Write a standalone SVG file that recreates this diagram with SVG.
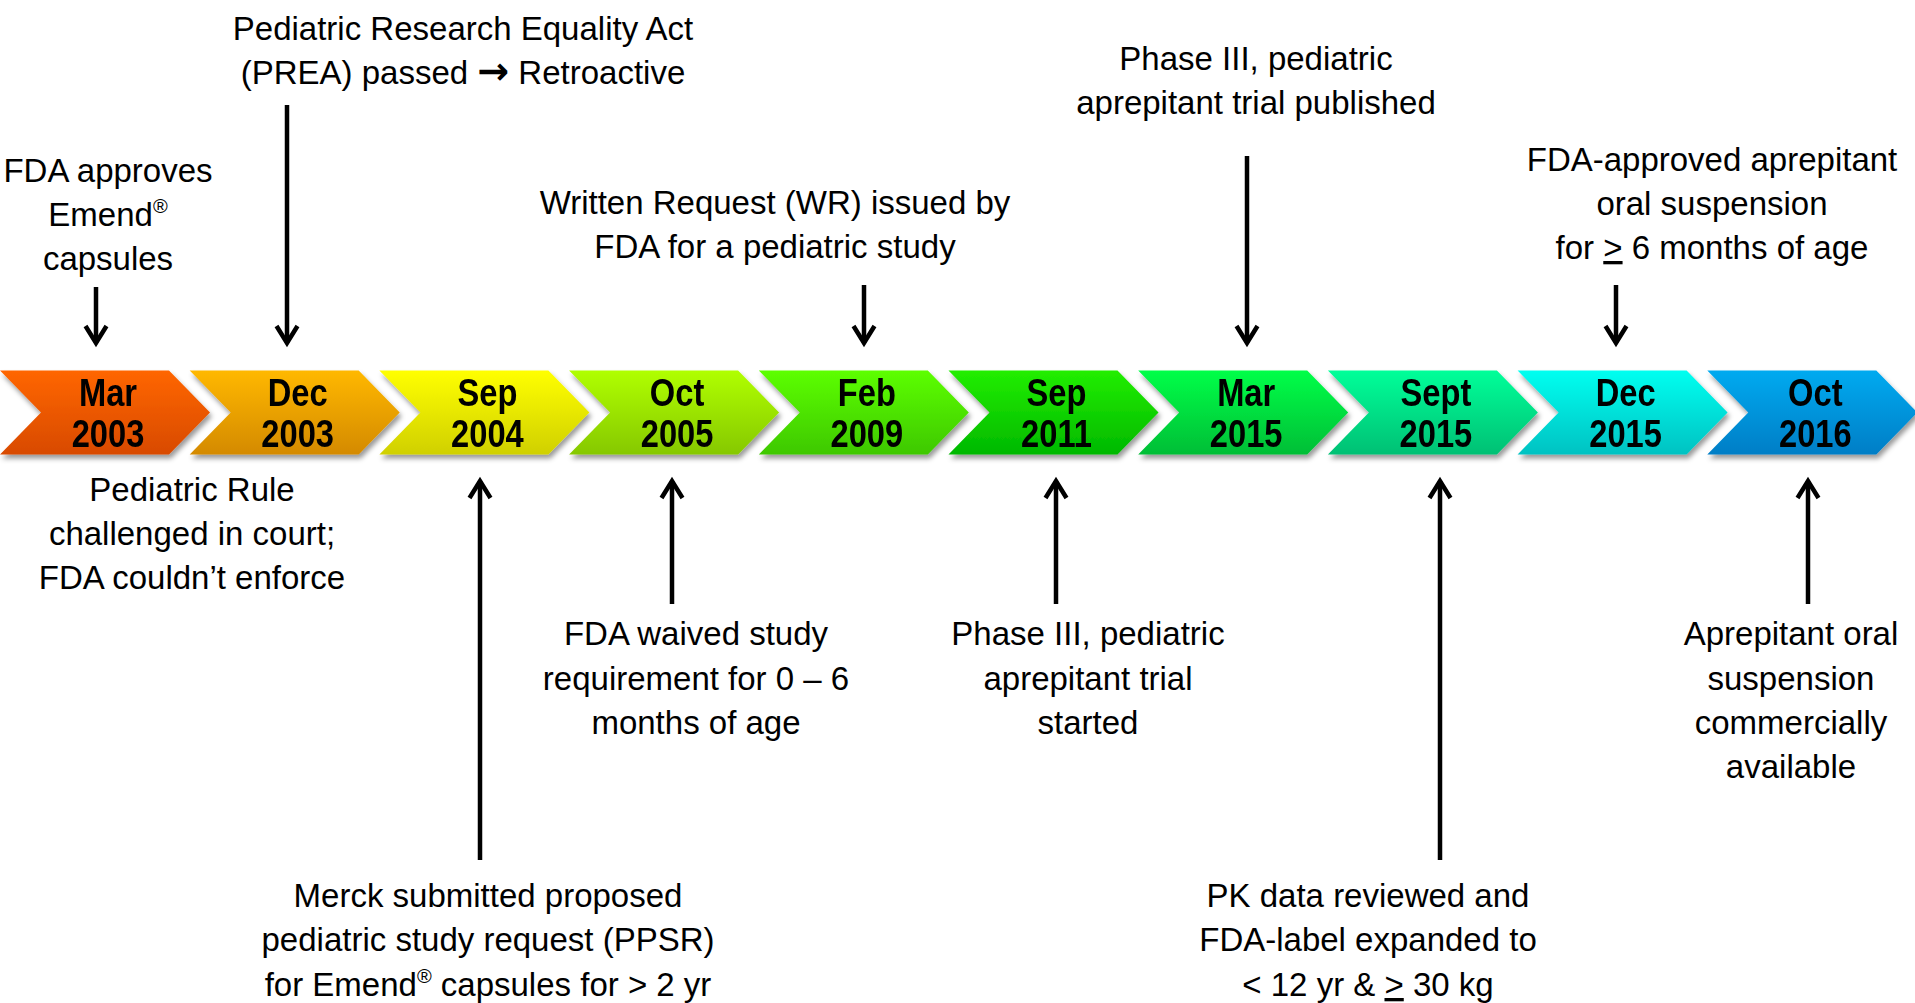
<svg xmlns="http://www.w3.org/2000/svg" xmlns:xlink="http://www.w3.org/1999/xlink" width="1915" height="1003" viewBox="0 0 1915 1003">
<style>
.t{font-family:"Liberation Sans",Arial,sans-serif;font-size:33px;fill:#000;text-anchor:middle}
.c{font-family:"Liberation Sans",Arial,sans-serif;font-size:38px;font-weight:bold;fill:#000;text-anchor:middle}
.sup{font-size:20px}
.u{text-decoration:underline}
.sym{font-family:"DejaVu Sans",sans-serif;font-weight:bold;font-size:38px}
.arr{stroke:#000;stroke-width:4.5;fill:none;marker-end:url(#ah)}
</style>
<defs>
<polygon id="chev" points="0,370.5 169,370.5 210,412.5 169,454.5 0,454.5 41,412.5"/>
<filter id="sh" x="-10%" y="-20%" width="130%" height="150%">
<feDropShadow dx="2" dy="4" stdDeviation="2.5" flood-color="#000" flood-opacity="0.4"/>
</filter>
<marker id="ah" markerUnits="userSpaceOnUse" viewBox="-22 -14 28 28" markerWidth="28" markerHeight="28" refX="0" refY="0" orient="auto" overflow="visible">
<path d="M-17,-10.5 L0,0 L-17,10.5" fill="none" stroke="#000" stroke-width="4.5" stroke-linejoin="miter" stroke-miterlimit="10"/>
</marker>
<linearGradient id="g1" x1="0" y1="0" x2="0" y2="1"><stop offset="0" stop-color="#FF6600"/><stop offset="1" stop-color="#D84A00"/></linearGradient>
<linearGradient id="g2" x1="0" y1="0" x2="0" y2="1"><stop offset="0" stop-color="#FFB800"/><stop offset="1" stop-color="#D48A00"/></linearGradient>
<linearGradient id="g3" x1="0" y1="0" x2="0" y2="1"><stop offset="0" stop-color="#FFFF00"/><stop offset="1" stop-color="#D0D000"/></linearGradient>
<linearGradient id="g4" x1="0" y1="0" x2="0" y2="1"><stop offset="0" stop-color="#B0FF00"/><stop offset="1" stop-color="#86C800"/></linearGradient>
<linearGradient id="g5" x1="0" y1="0" x2="0" y2="1"><stop offset="0" stop-color="#5CFF00"/><stop offset="1" stop-color="#3EC800"/></linearGradient>
<linearGradient id="g6" x1="0" y1="0" x2="0" y2="1"><stop offset="0" stop-color="#22EE00"/><stop offset="1" stop-color="#00B800"/></linearGradient>
<linearGradient id="g7" x1="0" y1="0" x2="0" y2="1"><stop offset="0" stop-color="#00FF48"/><stop offset="1" stop-color="#00BE36"/></linearGradient>
<linearGradient id="g8" x1="0" y1="0" x2="0" y2="1"><stop offset="0" stop-color="#00FF99"/><stop offset="1" stop-color="#00C074"/></linearGradient>
<linearGradient id="g9" x1="0" y1="0" x2="0" y2="1"><stop offset="0" stop-color="#00FFF0"/><stop offset="1" stop-color="#00C2C2"/></linearGradient>
<linearGradient id="g10" x1="0" y1="0" x2="0" y2="1"><stop offset="0" stop-color="#00AAF0"/><stop offset="1" stop-color="#007EC6"/></linearGradient>
</defs>
<rect width="1915" height="1003" fill="#fff"/>

<g id="timeline">
<g id="c-mar2003" filter="url(#sh)"><use href="#chev" x="0" fill="url(#g1)"/><text class="c" transform="matrix(0.86 0 0 1 108 0)" y="406.5">Mar</text><text class="c" transform="matrix(0.86 0 0 1 108 0)" y="447">2003</text></g>
<g id="c-dec2003" filter="url(#sh)"><use href="#chev" x="189.7" fill="url(#g2)"/><text class="c" transform="matrix(0.86 0 0 1 297.7 0)" y="406.5">Dec</text><text class="c" transform="matrix(0.86 0 0 1 297.7 0)" y="447">2003</text></g>
<g id="c-sep2004" filter="url(#sh)"><use href="#chev" x="379.4" fill="url(#g3)"/><text class="c" transform="matrix(0.86 0 0 1 487.4 0)" y="406.5">Sep</text><text class="c" transform="matrix(0.86 0 0 1 487.4 0)" y="447">2004</text></g>
<g id="c-oct2005" filter="url(#sh)"><use href="#chev" x="569.1" fill="url(#g4)"/><text class="c" transform="matrix(0.86 0 0 1 677.1 0)" y="406.5">Oct</text><text class="c" transform="matrix(0.86 0 0 1 677.1 0)" y="447">2005</text></g>
<g id="c-feb2009" filter="url(#sh)"><use href="#chev" x="758.8" fill="url(#g5)"/><text class="c" transform="matrix(0.86 0 0 1 866.8 0)" y="406.5">Feb</text><text class="c" transform="matrix(0.86 0 0 1 866.8 0)" y="447">2009</text></g>
<g id="c-sep2011" filter="url(#sh)"><use href="#chev" x="948.5" fill="url(#g6)"/><text class="c" transform="matrix(0.86 0 0 1 1056.5 0)" y="406.5">Sep</text><text class="c" transform="matrix(0.86 0 0 1 1056.5 0)" y="447">2011</text></g>
<g id="c-mar2015" filter="url(#sh)"><use href="#chev" x="1138.2" fill="url(#g7)"/><text class="c" transform="matrix(0.86 0 0 1 1246.2 0)" y="406.5">Mar</text><text class="c" transform="matrix(0.86 0 0 1 1246.2 0)" y="447">2015</text></g>
<g id="c-sept2015" filter="url(#sh)"><use href="#chev" x="1327.9" fill="url(#g8)"/><text class="c" transform="matrix(0.86 0 0 1 1435.9 0)" y="406.5">Sept</text><text class="c" transform="matrix(0.86 0 0 1 1435.9 0)" y="447">2015</text></g>
<g id="c-dec2015" filter="url(#sh)"><use href="#chev" x="1517.6" fill="url(#g9)"/><text class="c" transform="matrix(0.86 0 0 1 1625.6 0)" y="406.5">Dec</text><text class="c" transform="matrix(0.86 0 0 1 1625.6 0)" y="447">2015</text></g>
<g id="c-oct2016" filter="url(#sh)"><use href="#chev" x="1707.3" fill="url(#g10)"/><text class="c" transform="matrix(0.86 0 0 1 1815.3 0)" y="406.5">Oct</text><text class="c" transform="matrix(0.86 0 0 1 1815.3 0)" y="447">2016</text></g>
</g>

<g id="connectors">
<line class="arr" x1="96" y1="287" x2="96" y2="343"/>
<line class="arr" x1="287" y1="105" x2="287" y2="343"/>
<line class="arr" x1="864" y1="285" x2="864" y2="343"/>
<line class="arr" x1="1247" y1="156" x2="1247" y2="343"/>
<line class="arr" x1="1616" y1="285" x2="1616" y2="343"/>
<line class="arr" x1="480" y1="860" x2="480" y2="481"/>
<line class="arr" x1="672" y1="604" x2="672" y2="481"/>
<line class="arr" x1="1056" y1="604" x2="1056" y2="481"/>
<line class="arr" x1="1440" y1="860" x2="1440" y2="481"/>
<line class="arr" x1="1808" y1="604" x2="1808" y2="481"/>
</g>

<g id="n-fda-approves">
<text class="t" x="108" y="182">FDA approves</text>
<text class="t" x="108" y="226">Emend<tspan class="sup" dy="-13">®</tspan></text>
<text class="t" x="108" y="270">capsules</text>
</g>
<g id="n-prea">
<text class="t" x="463" y="40">Pediatric Research Equality Act</text>
<text class="t" x="463" y="84">(PREA) passed <tspan class="sym">→</tspan> Retroactive</text>
</g>
<g id="n-wr">
<text class="t" x="775" y="214">Written Request (WR) issued by</text>
<text class="t" x="775" y="258">FDA for a pediatric study</text>
</g>
<g id="n-published">
<text class="t" x="1256" y="70">Phase III, pediatric</text>
<text class="t" x="1256" y="114">aprepitant trial published</text>
</g>
<g id="n-approved-susp">
<text class="t" x="1712" y="171">FDA-approved aprepitant</text>
<text class="t" x="1712" y="215">oral suspension</text>
<text class="t" x="1712" y="259">for <tspan class="u">&gt;</tspan> 6 months of age</text>
</g>

<g id="n-rule">
<text class="t" x="192" y="501">Pediatric Rule</text>
<text class="t" x="192" y="545">challenged in court;</text>
<text class="t" x="192" y="589">FDA couldn’t enforce</text>
</g>
<g id="n-merck">
<text class="t" x="488" y="907">Merck submitted proposed</text>
<text class="t" x="488" y="951">pediatric study request (PPSR)</text>
<text class="t" x="488" y="996">for Emend<tspan class="sup" dy="-13">®</tspan><tspan dy="13"> capsules for &gt; 2 yr</tspan></text>
</g>
<g id="n-waived">
<text class="t" x="696" y="645">FDA waived study</text>
<text class="t" x="696" y="690">requirement for 0 – 6</text>
<text class="t" x="696" y="734">months of age</text>
</g>
<g id="n-started">
<text class="t" x="1088" y="645">Phase III, pediatric</text>
<text class="t" x="1088" y="690">aprepitant trial</text>
<text class="t" x="1088" y="734">started</text>
</g>
<g id="n-pk">
<text class="t" x="1368" y="907">PK data reviewed and</text>
<text class="t" x="1368" y="951">FDA-label expanded to</text>
<text class="t" x="1368" y="996">&lt; 12 yr &amp; <tspan class="u">&gt;</tspan> 30 kg</text>
</g>
<g id="n-available">
<text class="t" x="1791" y="645">Aprepitant oral</text>
<text class="t" x="1791" y="690">suspension</text>
<text class="t" x="1791" y="734">commercially</text>
<text class="t" x="1791" y="778">available</text>
</g>
</svg>
